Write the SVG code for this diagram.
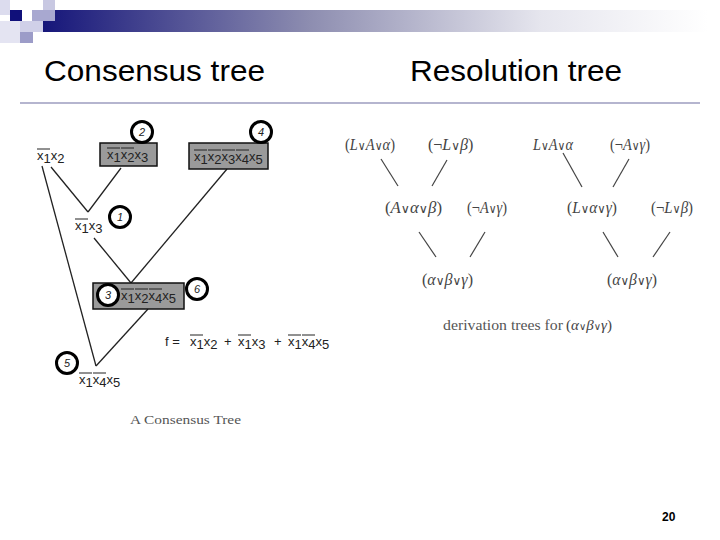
<svg xmlns="http://www.w3.org/2000/svg" width="720" height="540" viewBox="0 0 720 540">
<defs>
<linearGradient id="bar" x1="0" y1="0" x2="1" y2="0">
<stop offset="0" stop-color="#16167a"/>
<stop offset="0.4" stop-color="#8d8db0"/>
<stop offset="0.75" stop-color="#e6e6ee"/>
<stop offset="1" stop-color="#ffffff"/>
</linearGradient>
<style>
.title{font-family:"Liberation Sans",Arial,sans-serif;font-size:29px;fill:#000}
.lbl{font-family:"Liberation Sans",Arial,sans-serif;font-size:13px;fill:#222}
.ov{stroke:#222;stroke-width:1;fill:none}
.box{fill:#9a9a9a;stroke:#111;stroke-width:1.5}
.ring{fill:#fff;stroke:#000;stroke-width:3}
.num{font-family:"Liberation Sans",Arial,sans-serif;font-size:11px;font-style:italic;fill:#222;text-anchor:middle}
.edge{stroke:#222;stroke-width:1.3;fill:none}
.medge{stroke:#444;stroke-width:1.2;fill:none}
.math{font-family:"Liberation Serif","Times New Roman",serif;font-size:16px;fill:#444}
.i{font-style:italic}
.v{font-family:"DejaVu Sans",sans-serif;font-size:12px;font-weight:normal}
.v2{font-family:"DejaVu Sans",sans-serif;font-size:10px;font-weight:normal}
.cap{font-family:"Liberation Serif","Times New Roman",serif;fill:#555}
</style>
</defs>
<rect width="720" height="540" fill="#fff"/>
<g id="header">
<rect x="43" y="10" width="665" height="22" fill="url(#bar)"/>
<rect x="0" y="0" width="10" height="15" fill="#dcdcee"/>
<rect x="43" y="0" width="12" height="10" fill="#c8c8e2"/>
<rect x="32" y="10" width="23" height="11" fill="#a8a8d0"/>
<rect x="10" y="10" width="12" height="11" fill="#10107a"/>
<rect x="0" y="21" width="20" height="22" fill="#e4e4f2"/>
<rect x="20" y="21" width="23" height="11" fill="#d0d0e8"/>
<rect x="20" y="32" width="13" height="11" fill="#9c9cc8"/>
<line x1="20" y1="103" x2="700" y2="103" stroke="#9d9dbf" stroke-width="1.5"/>
</g>
<text class="title" x="44" y="81" textLength="221" lengthAdjust="spacingAndGlyphs">Consensus tree</text>
<text class="title" x="410" y="81" textLength="212" lengthAdjust="spacingAndGlyphs">Resolution tree</text>

<g id="connectors-left">
<line class="edge" x1="42" y1="166" x2="96" y2="366"/>
<line class="edge" x1="51" y1="167" x2="88" y2="212"/>
<line class="edge" x1="88" y1="212" x2="121" y2="168"/>
<line class="edge" x1="94" y1="238" x2="131" y2="283"/>
<line class="edge" x1="131" y1="283" x2="227" y2="169"/>
<line class="edge" x1="148" y1="309" x2="96" y2="366"/>
</g>

<g id="n-x1x2">
<text class="lbl" x="37" y="160">x<tspan dy="3">1</tspan><tspan dy="-3">x</tspan><tspan dy="3">2</tspan></text>
<line class="ov" x1="37" y1="149" x2="50" y2="149"/>
</g>

<g id="n-box2">
<rect class="box" x="100" y="143" width="57" height="23"/>
<text class="lbl" x="107" y="159">x<tspan dy="3">1</tspan><tspan dy="-3">x</tspan><tspan dy="3">2</tspan><tspan dy="-3">x</tspan><tspan dy="3">3</tspan></text>
<line class="ov" x1="107" y1="148" x2="120" y2="148"/>
<line class="ov" x1="121" y1="148" x2="134" y2="148"/>
<circle class="ring" cx="142" cy="132" r="10.5"/>
<text class="num" x="142" y="136">2</text>
</g>

<g id="n-box4">
<rect class="box" x="189" y="143" width="79" height="26"/>
<text class="lbl" x="194" y="161">x<tspan dy="3">1</tspan><tspan dy="-3">x</tspan><tspan dy="3">2</tspan><tspan dy="-3">x</tspan><tspan dy="3">3</tspan><tspan dy="-3">x</tspan><tspan dy="3">4</tspan><tspan dy="-3">x</tspan><tspan dy="3">5</tspan></text>
<line class="ov" x1="194" y1="150" x2="207" y2="150"/>
<line class="ov" x1="208" y1="150" x2="221" y2="150"/>
<line class="ov" x1="222" y1="150" x2="235" y2="150"/>
<line class="ov" x1="236" y1="150" x2="249" y2="150"/>
<circle class="ring" cx="261" cy="132" r="10.5"/>
<text class="num" x="261" y="136">4</text>
</g>

<g id="n-x1x3">
<text class="lbl" x="75" y="230">x<tspan dy="3">1</tspan><tspan dy="-3">x</tspan><tspan dy="3">3</tspan></text>
<line class="ov" x1="75" y1="219" x2="88" y2="219"/>
<circle class="ring" cx="120" cy="217" r="10.5"/>
<text class="num" x="120" y="221">1</text>
</g>

<g id="n-box3">
<rect class="box" x="93" y="283" width="91" height="26"/>
<circle class="ring" cx="108" cy="295" r="10.5"/>
<text class="num" x="108" y="299">3</text>
<text class="lbl" x="121" y="300">x<tspan dy="3">1</tspan><tspan dy="-3">x</tspan><tspan dy="3">2</tspan><tspan dy="-3">x</tspan><tspan dy="3">4</tspan><tspan dy="-3">x</tspan><tspan dy="3">5</tspan></text>
<line class="ov" x1="121" y1="289" x2="134" y2="289"/>
<line class="ov" x1="135" y1="289" x2="148" y2="289"/>
<line class="ov" x1="149" y1="289" x2="162" y2="289"/>
<circle class="ring" cx="197" cy="289" r="10.5"/>
<text class="num" x="197" y="293">6</text>
</g>

<g id="n-bottom">
<circle class="ring" cx="67" cy="363" r="10.5"/>
<text class="num" x="67" y="367">5</text>
<text class="lbl" x="79" y="384">x<tspan dy="3">1</tspan><tspan dy="-3">x</tspan><tspan dy="3">4</tspan><tspan dy="-3">x</tspan><tspan dy="3">5</tspan></text>
<line class="ov" x1="79" y1="373" x2="92" y2="373"/>
<line class="ov" x1="93" y1="373" x2="106" y2="373"/>
</g>

<g id="formula">
<text class="lbl" x="165" y="346">f =</text>
<text class="lbl" x="190" y="346">x<tspan dy="3">1</tspan><tspan dy="-3">x</tspan><tspan dy="3">2</tspan></text>
<line class="ov" x1="190" y1="335" x2="203" y2="335"/>
<text class="lbl" x="224" y="346">+</text>
<text class="lbl" x="238" y="346">x<tspan dy="3">1</tspan><tspan dy="-3">x</tspan><tspan dy="3">3</tspan></text>
<line class="ov" x1="238" y1="335" x2="251" y2="335"/>
<text class="lbl" x="274" y="346">+</text>
<text class="lbl" x="288" y="346">x<tspan dy="3">1</tspan><tspan dy="-3">x</tspan><tspan dy="3">4</tspan><tspan dy="-3">x</tspan><tspan dy="3">5</tspan></text>
<line class="ov" x1="288" y1="335" x2="301" y2="335"/>
<line class="ov" x1="302" y1="335" x2="315" y2="335"/>
</g>
<text class="cap" x="130" y="424" font-size="13" textLength="111" lengthAdjust="spacingAndGlyphs">A Consensus Tree</text>

<g id="connectors-right">
<line class="medge" x1="381" y1="159" x2="398" y2="186"/>
<line class="medge" x1="447" y1="160" x2="432" y2="186"/>
<line class="medge" x1="563" y1="153" x2="582" y2="187"/>
<line class="medge" x1="629" y1="159" x2="613" y2="187"/>
<line class="medge" x1="419" y1="232" x2="436" y2="257"/>
<line class="medge" x1="485" y1="232" x2="470" y2="257"/>
<line class="medge" x1="603" y1="232" x2="618" y2="257"/>
<line class="medge" x1="670" y1="232" x2="653" y2="257"/>
</g>
<g id="r1"><text class="math" x="345" y="150" textLength="50" lengthAdjust="spacingAndGlyphs">(<tspan class="i">L</tspan><tspan class="v">∨</tspan><tspan class="i">A</tspan><tspan class="v">∨</tspan><tspan class="i">α</tspan>)</text></g>
<g id="r2"><text class="math" x="428" y="150">(¬<tspan class="i">L</tspan><tspan class="v">∨</tspan><tspan class="i">β</tspan>)</text></g>
<g id="r3"><text class="math" x="533" y="150" textLength="40" lengthAdjust="spacingAndGlyphs"><tspan class="i">L</tspan><tspan class="v">∨</tspan><tspan class="i">A</tspan><tspan class="v">∨</tspan><tspan class="i">α</tspan></text></g>
<g id="r4"><text class="math" x="610" y="150" textLength="40" lengthAdjust="spacingAndGlyphs">(¬<tspan class="i">A</tspan><tspan class="v">∨</tspan><tspan class="i">γ</tspan>)</text></g>
<g id="r5"><text class="math" x="385" y="213" textLength="57" lengthAdjust="spacingAndGlyphs">(<tspan class="i">A</tspan><tspan class="v">∨</tspan><tspan class="i">α</tspan><tspan class="v">∨</tspan><tspan class="i">β</tspan>)</text></g>
<g id="r6"><text class="math" x="467" y="213" textLength="40" lengthAdjust="spacingAndGlyphs">(¬<tspan class="i">A</tspan><tspan class="v">∨</tspan><tspan class="i">γ</tspan>)</text></g>
<g id="r7"><text class="math" x="567" y="213" textLength="50" lengthAdjust="spacingAndGlyphs">(<tspan class="i">L</tspan><tspan class="v">∨</tspan><tspan class="i">α</tspan><tspan class="v">∨</tspan><tspan class="i">γ</tspan>)</text></g>
<g id="r8"><text class="math" x="651" y="213" textLength="42" lengthAdjust="spacingAndGlyphs">(¬<tspan class="i">L</tspan><tspan class="v">∨</tspan><tspan class="i">β</tspan>)</text></g>
<g id="r9"><text class="math" x="422" y="285" textLength="51" lengthAdjust="spacingAndGlyphs">(<tspan class="i">α</tspan><tspan class="v">∨</tspan><tspan class="i">β</tspan><tspan class="v">∨</tspan><tspan class="i">γ</tspan>)</text></g>
<g id="r10"><text class="math" x="607" y="285" textLength="50" lengthAdjust="spacingAndGlyphs">(<tspan class="i">α</tspan><tspan class="v">∨</tspan><tspan class="i">β</tspan><tspan class="v">∨</tspan><tspan class="i">γ</tspan>)</text></g>
<text class="cap" x="443" y="330" font-size="15.5" textLength="120" lengthAdjust="spacingAndGlyphs">derivation trees for</text>
<text class="math" style="font-size:15px" x="566" y="330">(<tspan class="i">α</tspan><tspan class="v2">∨</tspan><tspan class="i">β</tspan><tspan class="v2">∨</tspan><tspan class="i">γ</tspan>)</text>

<text x="662" y="521" font-family="Liberation Sans,Arial,sans-serif" font-size="12" font-weight="bold" fill="#000">20</text>
</svg>
